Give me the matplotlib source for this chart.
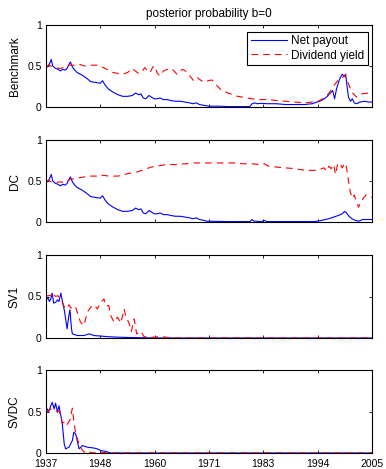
import numpy as np
import matplotlib
matplotlib.use("Agg")
import matplotlib.pyplot as plt

plt.rcParams['font.family'] = ['Liberation Sans', 'DejaVu Sans']

# posterior probability b=0, by model (years)
bench_np_x = [1937.0, 1937.5, 1937.9, 1938.1, 1938.4, 1939.0, 1939.5, 1940.0, 1940.5, 1941.0,
              1941.4, 1941.8, 1942.1, 1942.5, 1943.0, 1943.5, 1944.5, 1945.5, 1946.3, 1947.3,
              1948.3, 1948.8, 1949.3, 1950.0, 1951.0, 1952.0, 1953.0, 1954.0, 1955.0, 1955.7,
              1956.3, 1956.8, 1957.3, 1957.8, 1958.5, 1959.0, 1959.6, 1960.2, 1960.8, 1961.5,
              1962.3, 1963.0, 1964.0, 1965.0, 1966.0, 1967.0, 1967.6, 1968.4, 1969.0, 1970.0,
              1971.0, 1973.0, 1975.0, 1977.0, 1979.5, 1980.0, 1980.5, 1981.0, 1982.0, 1983.0,
              1985.0, 1987.0, 1989.0, 1991.0, 1992.5, 1993.5, 1994.5, 1995.5, 1996.3, 1996.8,
              1997.2, 1997.6, 1998.0, 1998.4, 1998.8, 1999.2, 1999.5, 1999.8, 2000.1, 2000.5,
              2000.9, 2001.3, 2001.8, 2002.5, 2003.5, 2004.3, 2005.0]
bench_np_y = [0.48, 0.50, 0.55, 0.58, 0.50, 0.47, 0.46, 0.44, 0.46, 0.45,
              0.47, 0.52, 0.55, 0.49, 0.45, 0.42, 0.39, 0.35, 0.31, 0.30,
              0.29, 0.32, 0.27, 0.22, 0.18, 0.15, 0.13, 0.13, 0.14, 0.17,
              0.15, 0.16, 0.11, 0.10, 0.14, 0.12, 0.10, 0.10, 0.11, 0.09,
              0.09, 0.08, 0.07, 0.07, 0.06, 0.05, 0.04, 0.05, 0.03, 0.02,
              0.01, 0.01, 0.005, 0.005, 0.005, 0.04, 0.05, 0.04, 0.045, 0.04,
              0.04, 0.03, 0.03, 0.03, 0.04, 0.06, 0.08, 0.12, 0.17, 0.20,
              0.10, 0.22, 0.30, 0.36, 0.40, 0.37, 0.40, 0.25, 0.12, 0.07,
              0.10, 0.05, 0.04, 0.06, 0.07, 0.06, 0.06]

bench_dy_x = [1937.0, 1937.5, 1938.0, 1939.0, 1940.0, 1941.0, 1941.8, 1943.0, 1944.0, 1945.0,
              1946.0, 1947.0, 1948.0, 1949.0, 1950.0, 1951.0, 1952.0, 1953.0, 1954.0, 1955.0,
              1955.6, 1956.3, 1957.0, 1957.6, 1958.2, 1958.7, 1959.3, 1959.7, 1960.2, 1960.8,
              1961.5, 1962.3, 1963.0, 1963.7, 1964.3, 1965.0, 1965.5, 1966.3, 1967.0, 1967.8,
              1968.5, 1969.2, 1970.0, 1970.8, 1971.6, 1972.5, 1973.5, 1975.0, 1977.0, 1979.0,
              1981.0, 1983.0, 1985.0, 1987.0, 1989.0, 1991.0, 1992.5, 1993.8, 1995.0, 1995.9,
              1996.6, 1997.3, 1998.0, 1998.7, 1999.4, 1999.8, 2000.1, 2000.8, 2001.3, 2001.8,
              2002.4, 2002.9, 2004.2, 2005.0]
bench_dy_y = [0.49, 0.51, 0.50, 0.48, 0.47, 0.49, 0.51, 0.51, 0.52, 0.50,
              0.51, 0.51, 0.51, 0.48, 0.45, 0.42, 0.41, 0.40, 0.42, 0.47,
              0.44, 0.41, 0.43, 0.48, 0.44, 0.42, 0.49, 0.50, 0.41, 0.38,
              0.44, 0.46, 0.47, 0.44, 0.40, 0.44, 0.46, 0.43, 0.38, 0.32,
              0.36, 0.33, 0.30, 0.32, 0.33, 0.27, 0.21, 0.17, 0.13, 0.11,
              0.09, 0.09, 0.08, 0.07, 0.06, 0.05, 0.06, 0.07, 0.11, 0.16,
              0.22, 0.28, 0.33, 0.35, 0.39, 0.33, 0.28, 0.18, 0.15, 0.12,
              0.14, 0.16, 0.17, 0.18]

dc_np_x = bench_np_x[:50] + [1970.5, 1975.0, 1979.5, 1980.0, 1980.4, 1982.0, 1982.5, 1983.0,
                             1990.0, 1993.0, 1994.5, 1996.0, 1997.0, 1998.0, 1998.8, 1999.3,
                             1999.7, 2000.2, 2000.8, 2001.5, 2002.3, 2003.0, 2004.0, 2005.0]
dc_np_y = bench_np_y[:50] + [0.01, 0.005, 0.005, 0.03, 0.01, 0.005, 0.02, 0.005,
                             0.005, 0.005, 0.02, 0.04, 0.06, 0.08, 0.10, 0.13,
                             0.11, 0.07, 0.04, 0.02, 0.01, 0.03, 0.03, 0.03]

dc_dy_x = [1937.0, 1937.5, 1938.0, 1939.0, 1940.0, 1941.0, 1942.0, 1943.0, 1944.0, 1945.0,
           1946.0, 1947.0, 1948.0, 1949.0, 1950.0, 1951.0, 1952.0, 1953.0, 1954.0, 1955.0,
           1956.0, 1957.0, 1958.0, 1959.0, 1960.0, 1962.0, 1964.0, 1966.0, 1968.0, 1970.0,
           1972.0, 1974.0, 1976.0, 1978.0, 1980.0, 1981.5, 1982.5, 1983.5, 1985.0, 1987.0,
           1989.0, 1991.0, 1993.0, 1994.0, 1995.0, 1995.5, 1996.0, 1996.5, 1997.0, 1997.4,
           1997.8, 1998.3, 1998.8, 1999.3, 1999.7, 2000.1, 2000.5, 2000.9, 2001.3, 2001.8,
           2002.2, 2002.7, 2003.3, 2003.8, 2004.4, 2005.0]
dc_dy_y = [0.49, 0.51, 0.49, 0.48, 0.49, 0.48, 0.52, 0.53, 0.54, 0.55,
           0.56, 0.56, 0.56, 0.57, 0.56, 0.56, 0.56, 0.57, 0.59, 0.60,
           0.61, 0.63, 0.65, 0.67, 0.68, 0.70, 0.70, 0.71, 0.72, 0.72,
           0.72, 0.72, 0.72, 0.71, 0.71, 0.70, 0.71, 0.68, 0.67, 0.66,
           0.65, 0.63, 0.63, 0.64, 0.66, 0.62, 0.68, 0.65, 0.70, 0.58,
           0.70, 0.72, 0.66, 0.72, 0.66, 0.50, 0.36, 0.29, 0.33, 0.24,
           0.18, 0.25, 0.30, 0.33, 0.31, 0.30]

sv1_np_x = [1937.0, 1937.4, 1937.7, 1938.0, 1938.3, 1938.6, 1939.0, 1939.4, 1939.7, 1940.1,
            1940.4, 1940.8, 1941.1, 1941.4, 1941.6, 1941.8, 1942.0, 1942.3, 1942.5, 1943.5,
            1944.9, 1945.5, 1946.0, 1946.5, 1947.0, 1948.0, 1949.1, 1950.0, 1952.0, 1955.0,
            1958.0, 1962.0, 2005.0]
sv1_np_y = [0.45, 0.49, 0.44, 0.47, 0.54, 0.42, 0.43, 0.46, 0.44, 0.54,
            0.45, 0.34, 0.23, 0.11, 0.20, 0.28, 0.34, 0.12, 0.05, 0.03,
            0.03, 0.04, 0.05, 0.04, 0.03, 0.025, 0.02, 0.015, 0.01, 0.005,
            0.002, 0.0, 0.0]

sv1_dy_x = [1937.0, 1938.0, 1938.3, 1938.7, 1939.0, 1939.5, 1939.8, 1940.4, 1940.8, 1941.1,
            1941.4, 1941.8, 1942.2, 1942.5, 1942.9, 1943.2, 1943.5, 1944.2, 1944.9, 1945.6,
            1946.3, 1947.0, 1947.7, 1948.4, 1949.1, 1949.4, 1950.1, 1950.5, 1951.2, 1951.9,
            1952.6, 1953.3, 1953.6, 1954.3, 1954.8, 1955.4, 1955.9, 1956.8, 1957.4, 1958.0,
            1960.0, 1960.5, 1962.0, 1963.0, 2005.0]
sv1_dy_y = [0.51, 0.51, 0.55, 0.52, 0.50, 0.51, 0.48, 0.43, 0.38, 0.35,
            0.37, 0.40, 0.36, 0.38, 0.37, 0.37, 0.31, 0.19, 0.15, 0.31,
            0.37, 0.40, 0.35, 0.43, 0.47, 0.39, 0.39, 0.27, 0.19, 0.25,
            0.18, 0.35, 0.27, 0.18, 0.08, 0.23, 0.05, 0.08, 0.02, 0.01,
            0.01, 0.02, 0.01, 0.0, 0.0]

svdc_np_x = [1937.0, 1937.3, 1937.6, 1938.0, 1938.3, 1938.7, 1939.0, 1939.4, 1939.7, 1940.1,
             1940.4, 1940.8, 1941.1, 1941.8, 1942.5, 1942.8, 1943.2, 1943.5, 1943.9, 1944.6,
             1945.6, 1947.0, 1947.7, 1948.4, 1949.4, 1950.5, 2005.0]
svdc_np_y = [0.49, 0.53, 0.50, 0.57, 0.61, 0.53, 0.60, 0.49, 0.57, 0.45,
             0.35, 0.11, 0.05, 0.07, 0.15, 0.25, 0.23, 0.15, 0.05, 0.09,
             0.07, 0.06, 0.05, 0.03, 0.02, 0.0, 0.0]

svdc_dy_x = [1937.0, 1937.3, 1938.0, 1938.5, 1939.0, 1939.7, 1940.1, 1940.4, 1940.8, 1941.1,
             1941.5, 1942.0, 1942.5, 1942.8, 1943.2, 1943.9, 1944.5, 1945.0, 1945.6, 1946.0,
             1947.0, 1948.5, 1950.0, 2005.0]
svdc_dy_y = [0.51, 0.50, 0.53, 0.51, 0.50, 0.51, 0.45, 0.36, 0.37, 0.33,
             0.35, 0.40, 0.54, 0.38, 0.23, 0.11, 0.04, 0.01, 0.03, 0.01,
             0.0, 0.01, 0.0, 0.0]

panels = ["Benchmark", "DC", "SV1", "SVDC"]
net_payout = [(bench_np_x, bench_np_y), (dc_np_x, dc_np_y), (sv1_np_x, sv1_np_y), (svdc_np_x, svdc_np_y)]
div_yield = [(bench_dy_x, bench_dy_y), (dc_dy_x, dc_dy_y), (sv1_dy_x, sv1_dy_y), (svdc_dy_x, svdc_dy_y)]

year_ticks = np.linspace(1937, 2005, 7)
year_labels = ["1937", "1948", "1960", "1971", "1983", "1994", "2005"]

fig = plt.figure(figsize=(3.86, 4.69), dpi=100)
W, H = 386, 469
boxes = [(25, 107), (140, 222), (255, 338), (370, 453)]  # top/bottom in pixels

for i, name in enumerate(panels):
    top, bot = boxes[i]
    ax = fig.add_axes([46 / W, 1 - bot / H, 326 / W, (bot - top) / H])
    nx, ny = net_payout[i]
    dx, dy = div_yield[i]
    ax.plot(nx, ny, color=(0, 0, 1), lw=0.8, label="Net payout")
    ax.plot(dx, dy, color=(1, 0, 0), lw=0.8, ls="--", dashes=(6, 4.5), label="Dividend yield")
    ax.set_xlim(1937, 2005)
    ax.set_ylim(0, 1)
    ax.set_yticks([0, 0.5, 1])
    ax.set_yticklabels(["0", "0.5", "1"])
    ax.set_xticks(year_ticks)
    if i == 3:
        ax.set_xticklabels(year_labels)
    else:
        ax.set_xticklabels([])
    ax.tick_params(direction="in", length=2.5, width=0.6, top=True, right=True,
                   labelsize=7.5, colors="black")
    ax.tick_params(axis="x", pad=4.5)
    ax.tick_params(axis="y", pad=3)
    for s in ax.spines.values():
        s.set_linewidth(0.8)
    ax.set_ylabel(name, fontsize=8.5, labelpad=5)
    if i == 0:
        ax.set_title("posterior probability b=0", fontsize=8.5, pad=6)
        leg = ax.legend(loc="upper right", bbox_to_anchor=(0.988, 0.918), fontsize=8.5,
                        fancybox=False, edgecolor="black", framealpha=1,
                        handlelength=3.1, borderpad=0.3, labelspacing=0.2,
                        handletextpad=0.35, borderaxespad=0)
        leg.get_frame().set_linewidth(0.8)

fig.savefig("out.png", dpi=100)
